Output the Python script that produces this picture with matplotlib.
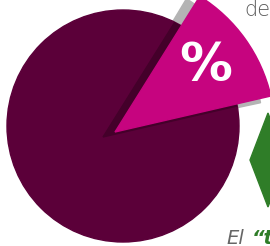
import matplotlib
matplotlib.use("Agg")
import matplotlib.pyplot as plt
from matplotlib.patches import Wedge, Circle, Polygon

# pie data (share of whole)
labels = ["resto", "%"]
shares = [0.875, 0.125]
colors = ["#5b0039", "#c6047f"]
start_angle = 13  # degrees, where the highlighted slice starts

fig = plt.figure(figsize=(2.7, 2.46), dpi=100)
ax = fig.add_axes([0, 0, 1, 1])
ax.set_xlim(0, 270)
ax.set_ylim(0, 246)
ax.set_aspect("equal")
ax.axis("off")

theta1 = start_angle
theta2 = start_angle + shares[1] * 360

# gray shadow behind exploded slice
ax.add_patch(Wedge((104, 110), 160, theta1 - 1, theta2 + 1, color="#b4b4b4", zorder=1))

# main pie body
body = Circle((123, 120), 116, color=colors[0], zorder=2)
ax.add_patch(body)

# darker shadow inside the body
sh = Wedge((103, 109), 160, theta1, theta2, color="#44002a", zorder=3)
ax.add_patch(sh)
sh.set_clip_path(body)

# exploded highlighted slice
ax.add_patch(Wedge((115, 114), 160, theta1, theta2, color=colors[1], zorder=4))
ax.text(206, 180, labels[1], color="white", fontsize=38, fontweight="bold",
        ha="center", va="center", zorder=5)

# green diamond at the right edge
ax.add_patch(Polygon([(250, 86), (268, 133), (286, 86), (268, 39)],
                     closed=True, color="#2f7d28", zorder=2))

# surrounding text fragments
ax.text(244, 236, "de", color="#5a5a5a", fontsize=15, ha="left", va="center",
        fontweight="light")
ax.text(226, 7, "El", color="#666666", fontsize=14, style="italic", ha="left", va="center")
ax.text(252, 7, "\u201ct", color="#2f7d28", fontsize=14, fontweight="bold",
        style="italic", ha="left", va="center")

fig.savefig("out.png", dpi=100)
